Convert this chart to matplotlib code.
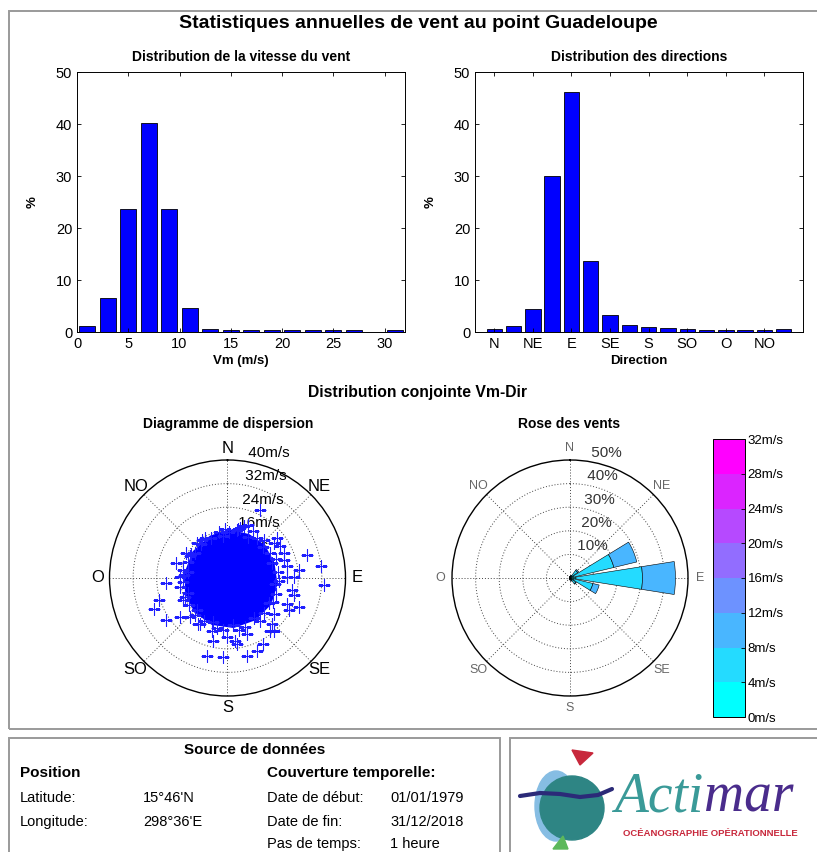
import numpy as np
import matplotlib
matplotlib.use("Agg")
import matplotlib.pyplot as plt
from matplotlib.patches import Rectangle, Ellipse, Circle, Polygon
from matplotlib.colors import BoundaryNorm, ListedColormap

plt.rcParams['font.family'] = ['Liberation Sans', 'DejaVu Sans']

W, H = 817, 852

# --- data ---
speed_centers = [1, 3, 5, 7, 9, 11, 13, 15, 17, 19, 21, 23, 25, 27, 29, 31]
speed_pct = [1.2, 6.6, 23.6, 40.1, 23.6, 4.6, 0.6, 0.3, 0.3, 0.3, 0.3, 0.3, 0.3, 0.3, 0.0, 0.3]

dir_names = ['N', 'NNE', 'NE', 'ENE', 'E', 'ESE', 'SE', 'SSE',
             'S', 'SSO', 'SO', 'OSO', 'O', 'ONO', 'NO', 'NNO']
dir_angles = [0, 22.5, 45, 67.5, 90, 112.5, 135, 157.5,
              180, 202.5, 225, 247.5, 270, 292.5, 315, 337.5]
dir_pct = [0.6, 1.2, 4.5, 30.0, 46.1, 13.6, 3.3, 1.4, 0.9, 0.7, 0.6, 0.3, 0.3, 0.3, 0.3, 0.6]
dir_tick_labels = ['N', 'NE', 'E', 'SE', 'S', 'SO', 'O', 'NO']

# rose des vents: % per direction and speed class
rose_0_4 = [0.3, 0.5, 1.0, 1.5, 2.5, 1.5, 1.0, 0.5, 0.4, 0.3, 0.3, 0.2, 0.2, 0.2, 0.2, 0.3]
rose_4_8 = [0.3, 0.6, 3.0, 17.6, 28.2, 8.5, 2.0, 0.8, 0.4, 0.3, 0.2, 0.1, 0.1, 0.1, 0.1, 0.3]
rose_8_12 = [0.0, 0.1, 0.5, 10.0, 14.0, 2.7, 0.3, 0.1, 0.0, 0.0, 0.0, 0.0, 0.0, 0.0, 0.0, 0.0]

# scatter: dense core outline (u east, v north, m/s)
core_u = [0.5, 7, 12, 15, 16, 14, 9, 2, -5, -10.5, -13.5, -13.5, -11, -5.5]
core_v = [15.5, 14, 10.5, 5, -2, -8.5, -13.5, -16, -15, -11, -5, 2, 8.5, 13.5]

# scatter: isolated points (u east, v north, m/s)
pts_u = [11.1, 7.1, 3.1, -1.4, -10.5, -14.0, 16.8, 17.9, 27.1, 31.6, 32.7, 24.2, 22.5,
         24.2, 20.8, 15.7, 15.1, 10.0, 6.5, 2.6, -1.4, -7.1, -4.8, -9.4, -16.2, -20.8,
         -24.8, -23.1, -20.8, -17.4, -16.2, 19.1, 20.2, 3.1, 12.2,
         -8.8, 4.3, 8.8, 15.7, 19.1, 20.2, 22.5, 21.9, 20.2, 15.7, 14.5, 6.5, -0.3,
         -5.4, -10.0, -12.8, -15.1, -16.2, -15.1, -12.8]
pts_v = [23.2, 18.1, 16.4, 14.1, 11.8, 8.4, 13.6, 10.7, 7.9, 3.9, -2.4, 2.7, -5.8,
         -9.8, -10.9, -17.8, -15.5, -24.6, -26.3, -21.2, -26.9, -26.3, -21.2, -15.5, -13.2, -14.4,
         -10.4, -7.5, -1.8, 5.0, 0.5, 6.2, 0.5, -22.3, -22.3,
         13.0, 17.0, 15.8, 11.8, 8.4, 3.9, 0.5, -4.1, -8.7, -12.1, -17.8, -18.9, -20.0,
         -17.8, -15.5, -13.2, -7.5, -3.0, 2.7, 7.3]

# scatter: ragged fringe just outside the core (u east, v north, m/s)
fringe_u = [3.5, 5.5, 10, 12.5, 14.5, 16.5, 17, 17.5, 16.5, 15.5, 12.5, 11, 6, 4,
            -1.5, -3.5, -8, -11, -13, -14.5, -15, -14.8, -13.5, -12.5, -9, -7.5, -3, -1]
fringe_v = [16.5, 17.5, 13.5, 13, 8.5, 6.5, 2, -1, -5.5, -8, -12, -14.5, -16.5, -17.5,
            -17.5, -16.8, -14.5, -12.5, -9, -6.5, -1.5, 1, 5.5, 8, 11.5, 13.5, 15.5, 16.5]

speed_levels = [0, 4, 8, 12, 16, 20, 24, 28, 32]
scatter_rings = [8, 16, 24, 32, 40]
rose_rings = [10, 20, 30, 40, 50]
compass_labels = ['N', 'NE', 'E', 'SE', 'S', 'SO', 'O', 'NO']
compass_angles = [0, 45, 90, 135, 180, 225, 270, 315]


def fr(x, y):
    return x / W, 1 - y / H


def rect(x0, y0, x1, y1):
    return [x0 / W, 1 - y1 / H, (x1 - x0) / W, (y1 - y0) / H]


fig = plt.figure(figsize=(W / 100, H / 100), dpi=100)

# frames
for (x0, y0, x1, y1) in [(9, 11, 830, 729), (9, 738, 500, 870), (510, 738, 830, 870)]:
    fig.add_artist(Rectangle((x0 / W, 1 - y1 / H), (x1 - x0) / W, (y1 - y0) / H,
                             transform=fig.transFigure, fill=False, ec='#9a9a9a', lw=1.4))

fig.text(*fr(418, 23), 'Statistiques annuelles de vent au point Guadeloupe',
         ha='center', va='center', fontsize=14, fontweight='bold')

cmap = plt.get_cmap('cool', 8)
cool8 = [cmap(i) for i in range(8)]


def style_hist(ax):
    ax.tick_params(direction='in', top=True, right=True, labelsize=10.5, length=3, width=0.6)
    for s in ax.spines.values():
        s.set_linewidth(0.7)
    ax.set_ylim(0, 50)
    ax.set_yticks([0, 10, 20, 30, 40, 50])
    ax.set_ylabel('%', fontsize=9.5, fontweight='bold', labelpad=12)


# speed histogram
ax1 = fig.add_axes(rect(77, 72, 405, 332))
ax1.bar(speed_centers, speed_pct, width=1.6, color='#0000ff', edgecolor='black', lw=0.6)
ax1.set_xlim(0, 32)
ax1.set_xticks([0, 5, 10, 15, 20, 25, 30])
style_hist(ax1)
ax1.set_title('Distribution de la vitesse du vent', fontsize=10, fontweight='bold', pad=8)
ax1.set_xlabel('Vm (m/s)', fontsize=9.5, fontweight='bold', labelpad=3)

# direction histogram
ax2 = fig.add_axes(rect(475, 72, 803, 332))
ax2.bar(np.arange(1, 17), dir_pct, width=0.8, color='#0000ff', edgecolor='black', lw=0.6)
ax2.set_xlim(0, 17)
ax2.set_xticks(np.arange(1, 17, 2))
ax2.set_xticklabels(dir_tick_labels)
style_hist(ax2)
ax2.set_title('Distribution des directions', fontsize=10, fontweight='bold', pad=8)
ax2.set_xlabel('Direction', fontsize=9.5, fontweight='bold', labelpad=3)

fig.text(*fr(418, 392), 'Distribution conjointe Vm-Dir', ha='center', va='center',
         fontsize=11.3, fontweight='bold')
fig.text(*fr(228, 424), 'Diagramme de dispersion', ha='center', va='center',
         fontsize=10, fontweight='bold')
fig.text(*fr(569, 424), 'Rose des vents', ha='center', va='center',
         fontsize=10, fontweight='bold')


def polar_frame(ax, rings, fmt, lab_size, lab_color, dir_size, dir_color):
    ax.set_theta_zero_location('N')
    ax.set_theta_direction(-1)
    ax.grid(False)
    ax.set_xticks([])
    ax.set_yticks([])
    rmax = rings[-1]
    ax.set_ylim(0, rmax)
    ax.spines['polar'].set_linewidth(1.0)
    t = np.linspace(0, 2 * np.pi, 361)
    for r in rings[:-1]:
        ax.plot(t, np.full_like(t, r), ls=(0, (1, 2)), color='#444444', lw=0.7, zorder=1)
    for a in compass_angles:
        ax.plot([np.radians(a)] * 2, [0, rmax], ls=(0, (1, 2)), color='#444444', lw=0.7, zorder=1)
    for r in rings:
        ax.text(np.radians(8), r + rmax / 5 / 20, ' ' + fmt.format(r), ha='left', va='bottom',
                fontsize=lab_size, color=lab_color, zorder=1)
    for a, lab in zip(compass_angles, compass_labels):
        ax.text(np.radians(a), rmax * 1.1, lab, ha='center', va='center',
                fontsize=dir_size, color=dir_color, clip_on=False)


# scatter
ax3 = fig.add_axes(rect(109.5, 460, 345.5, 696), projection='polar')
polar_frame(ax3, scatter_rings, '{}m/s', 11, 'black', 12, 'black')
cu, cv = np.array(core_u), np.array(core_v)
ax3.fill(np.arctan2(cu, cv), np.hypot(cu, cv), color='#0000ff', lw=4, ec='#0000ff', zorder=3)
for uu, vv in [(pts_u, pts_v), (fringe_u, fringe_v), (core_u, core_v)]:
    uu, vv = np.array(uu), np.array(vv)
    ax3.plot(np.arctan2(uu, vv), np.hypot(uu, vv), '+', color='#1f1fff', ms=8, mew=0.8,
             zorder=5)

# wind rose
ax4 = fig.add_axes(rect(452, 460, 688, 696), projection='polar')
polar_frame(ax4, rose_rings, '{}%', 11, '#333333', 9, '#666666')
theta = np.radians(dir_angles)
bottom = np.zeros(16)
for vals, col in zip([rose_0_4, rose_4_8, rose_8_12], cool8[:3]):
    v = np.array(vals)
    ax4.bar(theta, v, width=np.radians(18), bottom=bottom, color=col,
            edgecolor='black', lw=0.4, zorder=3)
    bottom = bottom + v

# colorbar
cax = fig.add_axes(rect(713, 439, 745, 717))
norm = BoundaryNorm(speed_levels, 8)
cb = fig.colorbar(plt.cm.ScalarMappable(norm=norm, cmap=ListedColormap(cool8)), cax=cax,
                  ticks=speed_levels)
cb.set_ticklabels(['{}m/s'.format(v) for v in speed_levels])
cb.ax.tick_params(labelsize=9.5, length=3, direction='in', width=0.6, pad=2)
cb.outline.set_linewidth(0.7)

# data source box
fig.text(*fr(255, 750), 'Source de données', ha='center', va='center', fontsize=11,
         fontweight='bold')
rows = [
    (20, 773, 'Position', True), (267, 773, 'Couverture temporelle:', True),
    (20, 798, 'Latitude:', False), (143, 798, "15°46'N", False),
    (20, 822, 'Longitude:', False), (143, 822, "298°36'E", False),
    (267, 798, 'Date de début:', False), (390, 798, '01/01/1979', False),
    (267, 822, 'Date de fin:', False), (390, 822, '31/12/2018', False),
    (267, 844, 'Pas de temps:', False), (390, 844, '1 heure', False),
]
for x, y, s, b in rows:
    fig.text(*fr(x, y), s, ha='left', va='center', fontsize=11 if b else 10.5,
             fontweight='bold' if b else 'normal')

# logo
axl = fig.add_axes(rect(510, 738, 817, 852))
axl.set_xlim(510, 817)
axl.set_ylim(852, 738)
axl.axis('off')
axl.add_patch(Ellipse((556, 806), 42, 70, color='#86bde3'))
axl.add_patch(Circle((572, 808), 32, color='#2e8584'))
axl.plot([520, 540, 560, 580, 598, 612], [796, 793, 794, 797, 795, 789], color='#2b2a78', lw=3,
         solid_capstyle='round')
axl.add_patch(Polygon([(572, 750), (593, 753), (580, 765)], color='#c8283c'))
axl.add_patch(Polygon([(553, 849), (563, 836), (568, 849)], color='#5cb85c'))
t1 = axl.text(614, 811, 'Acti', fontsize=40, style='italic', family='Liberation Serif',
              color='#3a9a98', va='baseline')
fig.canvas.draw()
bb = t1.get_window_extent(fig.canvas.get_renderer())
x_end = axl.transData.inverted().transform((bb.x1, bb.y0))[0]
axl.text(x_end + 1, 811, 'mar', fontsize=40, style='italic', family='Liberation Serif',
         color='#4a2c8c', va='baseline')
axl.text(710, 833, 'OCÉANOGRAPHIE OPÉRATIONNELLE', fontsize=6.8, fontweight='bold',
         color='#c8283c', ha='center', va='center')

fig.savefig('out.png', dpi=100)
